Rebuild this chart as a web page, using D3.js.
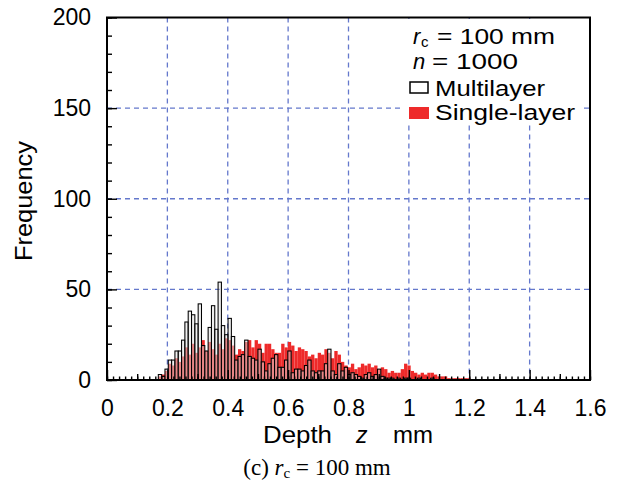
<!DOCTYPE html>
<html>
<head>
<meta charset="utf-8">
<title>Depth histogram</title>
<script src="https://d3js.org/d3.v7.min.js"></script>
<style>
  body { margin: 0; background: #fff; }
  text { font-family: "Liberation Sans", Arial, Helvetica, sans-serif; fill: #000; }
</style>
</head>
<body>
<script>

var width = 620
var height = 483

// histogram bins (mm): left edges, width 0.011
var binStart = 0.17
var binWidth = 0.011

// frequencies
var multilayer = [3, 2, 6, 11, 11, 16, 16, 22, 32, 38, 36, 31, 42, 19, 16, 29, 41, 28, 54, 30,
  25, 34, 24, 11, 13, 14, 22, 13, 12, 11, 17, 10, 5, 9, 12, 14, 7, 7, 11, 16,
  4, 6, 6, 5, 8, 11, 5, 4, 5, 5, 9, 17, 5, 3, 9, 5, 7, 3, 4, 3,
  2, 1, 3, 4, 2, 3, 6, 2, 1, 1, 1, 0, 1, 0, 1, 1, 0, 0, 1, 0,
  0, 0, 1, 0, 0, 0, 0, 0, 0, 0, 0, 0, 0, 0]

var singleLayer = [2, 3, 5, 9, 8, 12, 10, 13, 18, 14, 20, 15, 18, 22, 16, 21, 17, 14, 20, 17,
  23, 22, 19, 14, 17, 16, 21, 22, 18, 22, 20, 15, 20, 20, 17, 15, 15, 20, 18, 21,
  19, 16, 18, 17, 16, 13, 14, 12, 15, 14, 17, 15, 12, 16, 14, 10, 8, 7, 9, 6,
  7, 9, 8, 9, 7, 8, 6, 7, 6, 4, 5, 4, 4, 6, 9, 8, 5, 4, 3, 4,
  3, 4, 4, 3, 2, 2, 2, 1, 1, 1, 1, 1, 1, 1]

var xTicks = [0, 0.2, 0.4, 0.6, 0.8, 1, 1.2, 1.4, 1.6]
var yTicks = [0, 50, 100, 150, 200]

var margin = {left: 107, right: 30, top: 17.5, bottom: 103}

var svg = d3.select('body').append('svg')
  .attr('width', width)
  .attr('height', height)

var x = d3.scaleLinear().domain([0, 1.6]).range([margin.left, width - margin.right])
var y = d3.scaleLinear().domain([0, 200]).range([height - margin.bottom, margin.top])

// grid
var grid = svg.append('g')
  .attr('stroke', '#6478cc')
  .attr('stroke-width', 1.3)
  .attr('stroke-dasharray', '5,4')

grid.selectAll('.gx')
  .data(xTicks.slice(1, -1))
  .enter().append('line')
  .attr('x1', function(d) { return x(d) })
  .attr('x2', function(d) { return x(d) })
  .attr('y1', y(200))
  .attr('y2', y(0))

grid.selectAll('.gy')
  .data(yTicks.slice(1, -1))
  .enter().append('line')
  .attr('x1', x(0))
  .attr('x2', x(1.6))
  .attr('y1', function(d) { return y(d) })
  .attr('y2', function(d) { return y(d) })

// single-layer bars (red)
svg.append('g')
  .selectAll('rect')
  .data(singleLayer)
  .enter().append('rect')
  .attr('x', function(d, i) { return x(binStart + i * binWidth) })
  .attr('width', function(d, i) { return x(binStart + (i + 1) * binWidth) - x(binStart + i * binWidth) })
  .attr('y', function(d) { return y(d) })
  .attr('height', function(d) { return y(0) - y(d) })
  .attr('fill', '#ee2a2a')

// multilayer bars (open, drawn on top)
svg.append('g')
  .selectAll('rect')
  .data(multilayer.map(function(v, i) { return {v: v, i: i} }).filter(function(d) { return d.v > 0 }))
  .enter().append('rect')
  .attr('x', function(d) { return x(binStart + d.i * binWidth) })
  .attr('width', function(d) { return x(binStart + (d.i + 1) * binWidth) - x(binStart + d.i * binWidth) })
  .attr('y', function(d) { return y(d.v) })
  .attr('height', function(d) { return y(0) - y(d.v) })
  .attr('fill', 'rgba(225,225,225,0.5)')
  .attr('stroke', '#000')
  .attr('stroke-width', 1.05)

// axes: inward ticks
function tickAxis(axis, vals, size) {
  return axis.tickValues(vals).tickSize(-size).tickFormat('')
}

var xAxisG = svg.append('g').attr('transform', 'translate(0,' + y(0) + ')')
xAxisG.append('g').call(tickAxis(d3.axisBottom(x), d3.range(0, 1.601, 0.02), 3.5))
xAxisG.append('g').call(tickAxis(d3.axisBottom(x), d3.range(0.1, 1.6, 0.2), 6))
xAxisG.append('g').call(d3.axisBottom(x).tickValues(xTicks).tickSize(-10).tickPadding(20)
  .tickFormat(function(d) { return d3.format('')(d) }))

var yAxisG = svg.append('g').attr('transform', 'translate(' + x(0) + ',0)')
yAxisG.append('g').call(tickAxis(d3.axisLeft(y), d3.range(0, 201, 10), 5))
yAxisG.append('g').call(d3.axisLeft(y).tickValues(yTicks).tickSize(-10).tickPadding(16))

svg.selectAll('.domain').remove()
svg.selectAll('.tick line').attr('stroke', '#000').attr('stroke-width', 1.4)
svg.selectAll('.tick text').attr('font-size', 23).attr('font-family', '"Liberation Sans", Arial, sans-serif')

// frame
svg.append('rect')
  .attr('x', x(0))
  .attr('y', y(200))
  .attr('width', x(1.6) - x(0))
  .attr('height', y(0) - y(200))
  .attr('fill', 'none')
  .attr('stroke', '#000')
  .attr('stroke-width', 2)

// legend
var lg = svg.append('g')
lg.append('rect')
  .attr('x', 404).attr('y', 19)
  .attr('width', 176).attr('height', 105)
  .attr('fill', '#fff')

function fitText(g, tx, ty, str, len) {
  return g.append('text').attr('x', tx).attr('y', ty).attr('font-size', 22)
    .attr('textLength', len).attr('lengthAdjust', 'spacingAndGlyphs').text(str)
}

lg.append('text').attr('x', 413).attr('y', 44).attr('font-size', 22).attr('font-style', 'italic').text('r')
lg.append('text').attr('x', 421).attr('y', 47).attr('font-size', 15).text('c')
fitText(lg, 437, 44, '= 100 mm', 118)

lg.append('text').attr('x', 413).attr('y', 69).attr('font-size', 22).attr('font-style', 'italic').text('n')
fitText(lg, 432, 69, '= 1000', 86)

lg.append('rect')
  .attr('x', 410).attr('y', 82).attr('width', 18).attr('height', 11)
  .attr('fill', '#fff').attr('stroke', '#000').attr('stroke-width', 1.5)
fitText(lg, 435, 96, 'Multilayer', 110)

lg.append('rect')
  .attr('x', 409).attr('y', 107).attr('width', 20).attr('height', 12)
  .attr('fill', '#ee2a2a')
fitText(lg, 435, 120, 'Single-layer', 140)

// axis titles
svg.append('text')
  .attr('transform', 'translate(32,201) rotate(-90)')
  .attr('text-anchor', 'middle')
  .attr('font-size', 24)
  .attr('textLength', 120).attr('lengthAdjust', 'spacingAndGlyphs')
  .text('Frequency')

svg.append('text').attr('x', 263).attr('y', 443).attr('font-size', 23)
  .attr('textLength', 69).attr('lengthAdjust', 'spacingAndGlyphs').text('Depth')
svg.append('text').attr('x', 356).attr('y', 443).attr('font-size', 23).attr('font-style', 'italic').text('z')
svg.append('text').attr('x', 393).attr('y', 443).attr('font-size', 23)
  .attr('textLength', 40).attr('lengthAdjust', 'spacingAndGlyphs').text('mm')

// caption
var cap = svg.append('text')
  .attr('x', 317).attr('y', 475)
  .attr('text-anchor', 'middle')
  .style('font-family', '"Liberation Serif", "Times New Roman", serif')
  .attr('font-size', 23)
cap.append('tspan').text('(c) ')
cap.append('tspan').attr('font-style', 'italic').text('r')
cap.append('tspan').attr('font-size', 15).attr('dy', 3).text('c')
cap.append('tspan').attr('dy', -3).text(' = 100 mm')

</script>
</body>
</html>
